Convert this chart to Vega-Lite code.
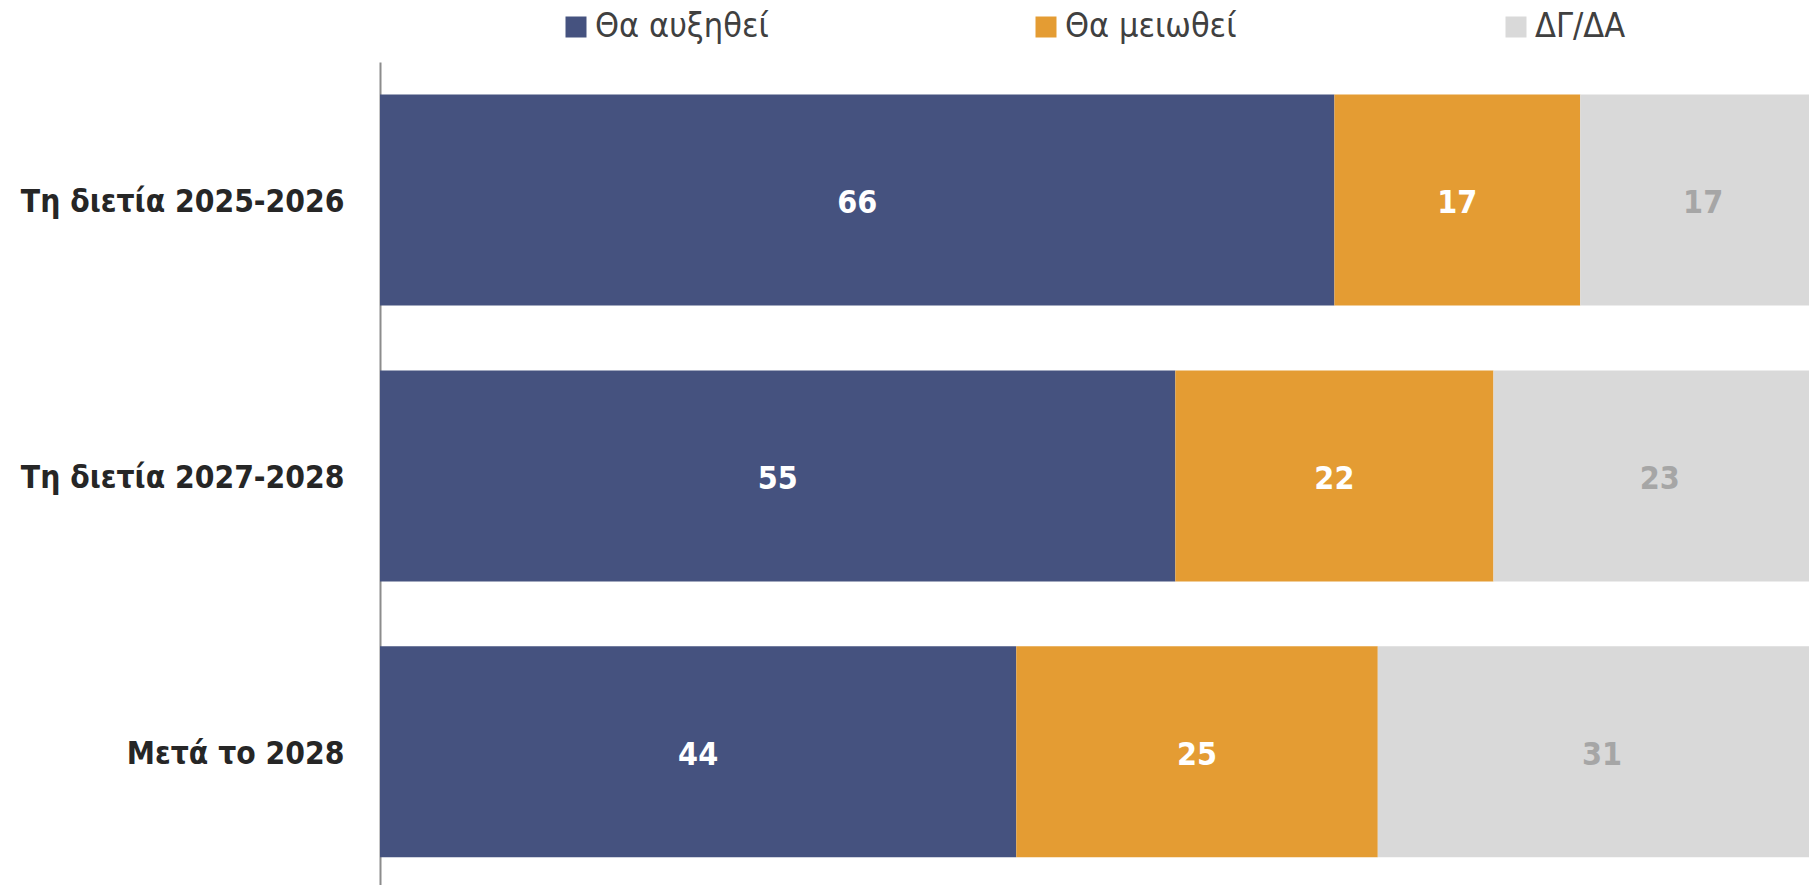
{
  "$schema": "https://vega.github.io/schema/vega-lite/v6.json",
  "autosize": "none",
  "width": 1429,
  "height": 823,
  "padding": {"left": 380, "top": 62, "right": 0, "bottom": 0},
  "background": "white",
  "config": {"view": {"stroke": null}, "font": "DejaVu Sans Condensed"},
  "data": {
    "values": [
      {"period": "Τη διετία 2025-2026", "answer": "Θα αυξηθεί", "k": 1, "value": 66},
      {"period": "Τη διετία 2025-2026", "answer": "Θα μειωθεί", "k": 2, "value": 17},
      {"period": "Τη διετία 2025-2026", "answer": "ΔΓ/ΔΑ", "k": 3, "value": 17},
      {"period": "Τη διετία 2027-2028", "answer": "Θα αυξηθεί", "k": 1, "value": 55},
      {"period": "Τη διετία 2027-2028", "answer": "Θα μειωθεί", "k": 2, "value": 22},
      {"period": "Τη διετία 2027-2028", "answer": "ΔΓ/ΔΑ", "k": 3, "value": 23},
      {"period": "Μετά το 2028", "answer": "Θα αυξηθεί", "k": 1, "value": 44},
      {"period": "Μετά το 2028", "answer": "Θα μειωθεί", "k": 2, "value": 25},
      {"period": "Μετά το 2028", "answer": "ΔΓ/ΔΑ", "k": 3, "value": 31}
    ]
  },
  "encoding": {
    "y": {
      "field": "period", "type": "nominal", "sort": null, "title": null,
      "scale": {"paddingInner": 0.235, "paddingOuter": 0.1095, "align": 0.54},
      "axis": {
        "domainColor": "#8c8c8c", "domainWidth": 2, "ticks": false,
        "labelFont": "DejaVu Sans Condensed", "labelFontWeight": "bold",
        "labelFontSize": 31.5, "labelColor": "#262626", "labelPadding": 36,
        "labelOffset": 3, "labelLimit": 400
      }
    }
  },
  "layer": [
    {
      "mark": {"type": "bar", "clip": true},
      "encoding": {
        "x": {"field": "value", "type": "quantitative", "stack": "zero",
              "scale": {"domain": [0, 98.82], "nice": false, "zero": true}, "axis": null},
        "order": {"field": "k", "type": "quantitative"},
        "color": {
          "field": "answer", "type": "nominal", "title": null,
          "scale": {"domain": ["Θα αυξηθεί", "Θα μειωθεί", "ΔΓ/ΔΑ"],
                    "range": ["#45527f", "#e49c33", "#d9d9d9"]},
          "legend": {
            "orient": "none", "legendX": 179, "legendY": -52,
            "direction": "horizontal", "columns": 3, "gridAlign": "all",
            "columnPadding": 260, "symbolType": "square", "symbolSize": 441,
            "symbolStrokeWidth": 0, "labelFont": "DejaVu Sans Condensed",
            "labelFontSize": 34, "labelColor": "#404040", "labelOffset": 2,
            "labelLimit": 400
          }
        }
      }
    },
    {
      "mark": {"type": "text", "fontWeight": "bold", "fontSize": 32, "font": "DejaVu Sans Condensed", "baseline": "middle", "align": "center", "dy": 3},
      "encoding": {
        "x": {"field": "value", "type": "quantitative", "stack": "zero", "bandPosition": 0.5},
        "order": {"field": "k", "type": "quantitative"},
        "detail": {"field": "answer"},
        "text": {"field": "value", "type": "quantitative"},
        "color": {
          "field": "answer", "type": "nominal", "legend": null,
          "scale": {"domain": ["Θα αυξηθεί", "Θα μειωθεί", "ΔΓ/ΔΑ"],
                    "range": ["#ffffff", "#ffffff", "#a6a6a6"]}
        }
      }
    }
  ],
  "resolve": {"scale": {"color": "independent"}}
}
